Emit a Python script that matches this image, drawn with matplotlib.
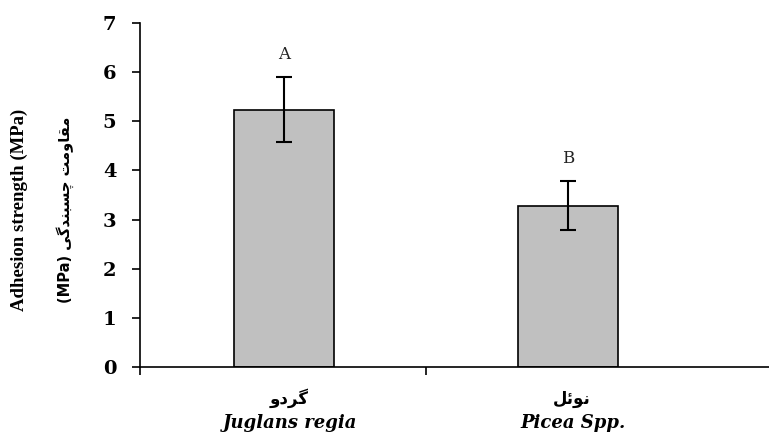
import matplotlib
matplotlib.use("Agg")
import matplotlib.pyplot as plt

# data
species = ["Juglans regia", "Picea Spp."]
# persian names, written as presentation forms in visual order
names_fa = ["\uFEED\uFEA9\uFEAE\uFB94", "\uFEDE\uFE8B\uFEEE\uFEE7"]
strength = [5.23, 3.28]
err = [0.66, 0.50]
letters = ["A", "B"]
yticks = [0, 1, 2, 3, 4, 5, 6, 7]

ylabel_en = "Adhesion strength (MPa)"
ylabel_fa = "(MPa) " + "\uFBFD\uFB94\uFEAA\uFEE8\uFE92\uFEB4\uFB7C" + " " + "\uFE96\uFEE3\uFEED\uFE8E\uFED8\uFEE3"

fig = plt.figure(figsize=(7.69, 4.32), dpi=100)
ax = fig.add_axes([0.182, 0.150, 0.818, 0.797])

x = list(range(len(strength)))
ax.bar(x, strength, width=0.353, color="#c0c0c0", edgecolor="black", linewidth=1.2, zorder=2)
ax.errorbar(x, strength, yerr=err, fmt="none", ecolor="black", elinewidth=1.5,
            capsize=6, capthick=1.5, zorder=3)

for i in x:
    ax.text(i, strength[i] + err[i] + 0.3, letters[i], ha="center", va="bottom",
            fontsize=12, family="DejaVu Serif", color="#222222")

ax.set_xlim(-0.51, 1.71)
ax.set_ylim(0, 7)
ax.set_yticks(yticks)
ax.set_yticklabels([str(v) for v in yticks], family="DejaVu Serif", fontweight="bold", fontsize=14)
ax.set_xticks([-0.51, 0.5])
ax.set_xticklabels(["", ""])
ax.tick_params(axis="y", direction="out", length=6, width=1.2, pad=11)
ax.tick_params(axis="x", direction="out", length=6, width=1.2)

for s in ["top", "right"]:
    ax.spines[s].set_visible(False)
for s in ["left", "bottom"]:
    ax.spines[s].set_linewidth(1.2)

# category labels
for i in x:
    ax.text(i + 0.015, -0.64, names_fa[i], ha="center", va="center", transform=ax.transData,
            fontsize=12, family=["DejaVu Sans"], fontweight="bold", clip_on=False)
    ax.text(i + 0.02, -1.14, species[i], ha="center", va="center", transform=ax.transData,
            fontsize=13, family="DejaVu Serif", fontweight="bold", style="italic", clip_on=False)

fig.text(0.025, 0.515, ylabel_en, rotation=90, ha="center", va="center",
         fontsize=13.5, family="Liberation Serif", fontweight="bold")
fig.text(0.085, 0.515, ylabel_fa, rotation=90, ha="center", va="center",
         fontsize=10.5, family=["DejaVu Sans"], fontweight="bold")

fig.savefig("out.png", dpi=100)
